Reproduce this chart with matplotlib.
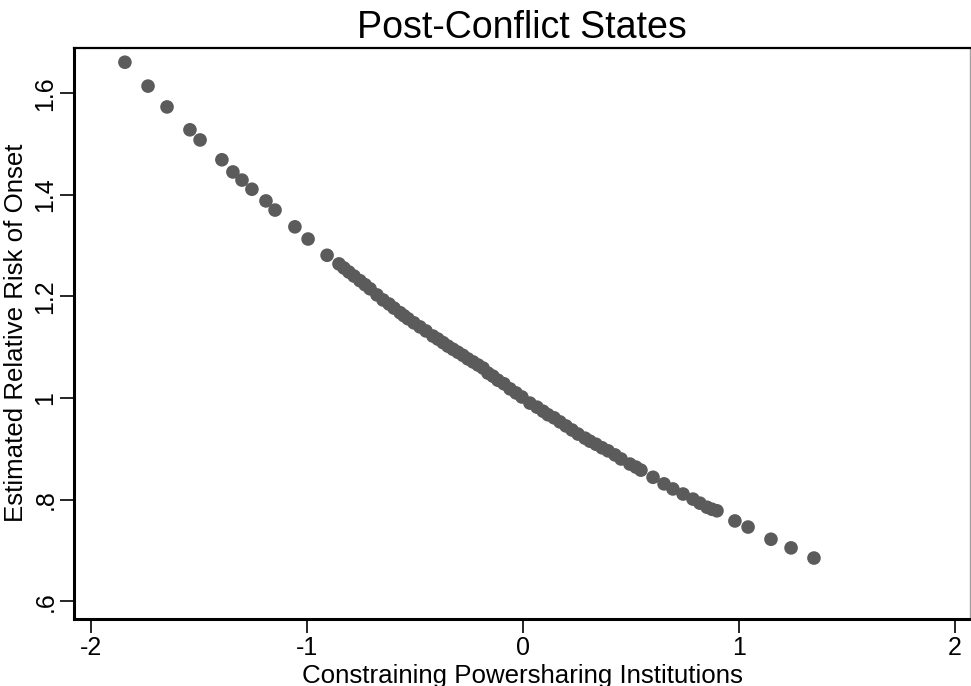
import matplotlib
matplotlib.use("Agg")
import matplotlib.pyplot as plt

plt.rcParams['font.family'] = ['Liberation Sans', 'DejaVu Sans']

title = "Post-Conflict States"
x_label = "Constraining Powersharing Institutions"
y_label = "Estimated Relative Risk of Onset"

x_ticks = [-2, -1, 0, 1, 2]
x_tick_labels = ["-2", "-1", "0", "1", "2"]
y_ticks = [0.6, 0.8, 1.0, 1.2, 1.4, 1.6]
y_tick_labels = [".6", ".8", "1", "1.2", "1.4", "1.6"]

powersharing = [
    -1.843, -1.736, -1.648, -1.542, -1.495, -1.394, -1.343, -1.301, -1.255, -1.190,
    -1.148, -1.056, -0.995, -0.907, -0.852, -0.829, -0.806, -0.782, -0.755, -0.731,
    -0.708, -0.676, -0.648, -0.620, -0.597, -0.569, -0.551, -0.532, -0.505, -0.477,
    -0.449, -0.417, -0.394, -0.370, -0.347, -0.324, -0.301, -0.278, -0.255, -0.231,
    -0.208, -0.185, -0.162, -0.139, -0.116, -0.088, -0.060, -0.032, -0.005, 0.032,
    0.065, 0.093, 0.116, 0.144, 0.171, 0.199, 0.227, 0.255, 0.287, 0.310,
    0.338, 0.366, 0.394, 0.426, 0.454, 0.495, 0.523, 0.546, 0.602, 0.653,
    0.694, 0.741, 0.787, 0.819, 0.852, 0.875, 0.898, 0.981, 1.042, 1.148,
    1.241, 1.347,
]
relative_risk = [
    1.661, 1.614, 1.573, 1.528, 1.508, 1.469, 1.445, 1.429, 1.411, 1.388,
    1.370, 1.337, 1.313, 1.281, 1.264, 1.256, 1.248, 1.240, 1.231, 1.223,
    1.215, 1.203, 1.193, 1.185, 1.177, 1.168, 1.162, 1.156, 1.148, 1.140,
    1.132, 1.122, 1.116, 1.109, 1.102, 1.096, 1.090, 1.084, 1.077, 1.071,
    1.065, 1.059, 1.049, 1.043, 1.035, 1.028, 1.018, 1.010, 1.002, 0.990,
    0.982, 0.974, 0.967, 0.961, 0.953, 0.945, 0.937, 0.929, 0.921, 0.915,
    0.909, 0.902, 0.896, 0.888, 0.880, 0.870, 0.864, 0.858, 0.844, 0.831,
    0.821, 0.811, 0.801, 0.793, 0.785, 0.781, 0.778, 0.758, 0.746, 0.722,
    0.705, 0.685,
]

W, H = 971, 686
fig = plt.figure(figsize=(W / 100, H / 100), dpi=100)
left, right, top, bottom = 74, 970, 47.5, 619
ax = fig.add_axes([left / W, 1 - bottom / H, (right - left) / W, (bottom - top) / H])

ax.scatter(powersharing, relative_risk, s=96, color='#5b5b5b', edgecolors='none', zorder=3)

ax.set_xlim(-2.0787, 2.0694)
ax.set_ylim(0.565, 1.690)
ax.set_xticks(x_ticks)
ax.set_xticklabels(x_tick_labels, fontsize=18)
ax.set_yticks(y_ticks)
ax.set_yticklabels(y_tick_labels, fontsize=18, rotation=90, va='center')
ax.tick_params(axis='both', direction='out', length=10, width=1.2, color='black', pad=2)

for side in ['left', 'bottom']:
    ax.spines[side].set_linewidth(2.2)
    ax.spines[side].set_color('black')
ax.spines['top'].set_linewidth(1.6)
ax.spines['top'].set_color('black')
ax.spines['right'].set_linewidth(1.0)
ax.spines['right'].set_color('#a0a0a0')

ax.set_xlabel(x_label, fontsize=18.6, labelpad=3)
ax.set_ylabel(y_label, fontsize=18.6, labelpad=4)
ax.set_title(title, fontsize=27, pad=6.5)

fig.savefig("out.png", dpi=100, facecolor='white')
